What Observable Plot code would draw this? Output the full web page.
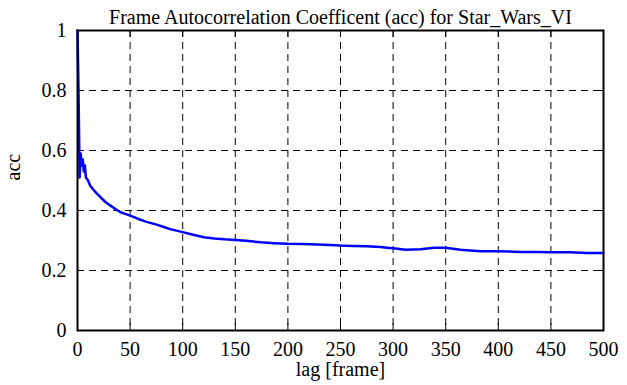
<!DOCTYPE html>
<html>
<head>
<meta charset="utf-8">
<script src="https://cdn.jsdelivr.net/npm/d3@7"></script>
<script src="https://cdn.jsdelivr.net/npm/@observablehq/plot@0.6"></script>
<style>
  html, body { margin: 0; padding: 0; background: #fff; font-family: 'Liberation Serif', serif; }
</style>
</head>
<body>
<div id="chart"></div>
<script>
const titleText = "Frame Autocorrelation Coefficent (acc) for Star_Wars_VI";
const xLabel = "lag [frame]";
const yLabel = "acc";
const xTicks = [0, 50, 100, 150, 200, 250, 300, 350, 400, 450, 500];
const yTicks = [0, 0.2, 0.4, 0.6, 0.8, 1];

const lags = [0, 1, 2, 3, 4, 5, 6, 7, 8, 10, 12, 15, 18, 22, 26, 31, 36, 41, 46, 50,
  55, 60, 65, 70, 76, 82, 88, 94, 100, 110, 120, 130, 140, 150, 160, 174, 187, 200,
  214, 228, 240, 250, 262, 275, 288, 294, 300, 312, 326, 339, 350, 364, 383, 400,
  421, 436, 450, 468, 484, 500];
const acc = [1.0, 0.79, 0.51, 0.59, 0.55, 0.57, 0.53, 0.55, 0.51, 0.50, 0.483, 0.47,
  0.458, 0.444, 0.43, 0.417, 0.405, 0.394, 0.388, 0.383, 0.376, 0.369, 0.363, 0.358,
  0.352, 0.345, 0.338, 0.333, 0.328, 0.319, 0.311, 0.307, 0.304, 0.302, 0.299, 0.294,
  0.291, 0.289, 0.288, 0.287, 0.285, 0.283, 0.282, 0.281, 0.278, 0.276, 0.274, 0.269,
  0.271, 0.276, 0.276, 0.269, 0.264, 0.264, 0.262, 0.262, 0.261, 0.261, 0.258, 0.258];

const data = lags.map((l, i) => ({lag: l, acc: acc[i]}));

const W = 627, H = 385;
const mTop = 30, mBottom = 55, mLeft = 77, mRight = 24;
const plotH = H - mTop - mBottom;
const plotW = W - mLeft - mRight;
const tickLen = 7;
const dash = "7,5";
const fs = 20;

const chart = Plot.plot({
  width: W,
  height: H,
  marginTop: mTop,
  marginBottom: mBottom,
  marginLeft: mLeft,
  marginRight: mRight,
  style: {fontFamily: "'Liberation Serif', 'Times New Roman', serif", fontSize: fs + "px", color: "black", background: "white"},
  x: {domain: [0, 500]},
  y: {domain: [0, 1]},
  marks: [
    Plot.gridX(xTicks, {stroke: "black", strokeOpacity: 1, strokeDasharray: dash}),
    Plot.gridY(yTicks, {stroke: "black", strokeOpacity: 1, strokeDasharray: dash}),
    Plot.tickX(xTicks, {x: d => d, stroke: "black", insetTop: plotH - tickLen}),
    Plot.tickX(xTicks, {x: d => d, stroke: "black", insetBottom: plotH - tickLen}),
    Plot.tickY(yTicks, {y: d => d, stroke: "black", insetRight: plotW - tickLen}),
    Plot.tickY(yTicks, {y: d => d, stroke: "black", insetLeft: plotW - tickLen}),
    Plot.axisX(xTicks, {tickSize: 0, tickPadding: 11, label: null, fontSize: fs, fontFamily: "'Liberation Serif', serif"}),
    Plot.axisY(yTicks, {tickSize: 0, tickPadding: 11, label: null, fontSize: fs, fontFamily: "'Liberation Serif', serif", tickFormat: d => String(+d.toFixed(1))}),
    Plot.line(data, {x: "lag", y: "acc", stroke: "#0000ff", strokeWidth: 2.5}),
    Plot.frame({stroke: "black", strokeWidth: 2}),
    Plot.text([titleText], {text: d => d, frameAnchor: "top", dy: -21, fontSize: fs, fontFamily: "'Liberation Serif', serif"}),
    Plot.text([xLabel], {text: d => d, frameAnchor: "bottom", dy: 45, fontSize: fs, fontFamily: "'Liberation Serif', serif"}),
    Plot.text([yLabel], {text: d => d, frameAnchor: "left", dx: -64, rotate: -90, fontSize: fs, fontFamily: "'Liberation Serif', serif"})
  ]
});
document.getElementById("chart").appendChild(chart);
</script>
</body>
</html>
